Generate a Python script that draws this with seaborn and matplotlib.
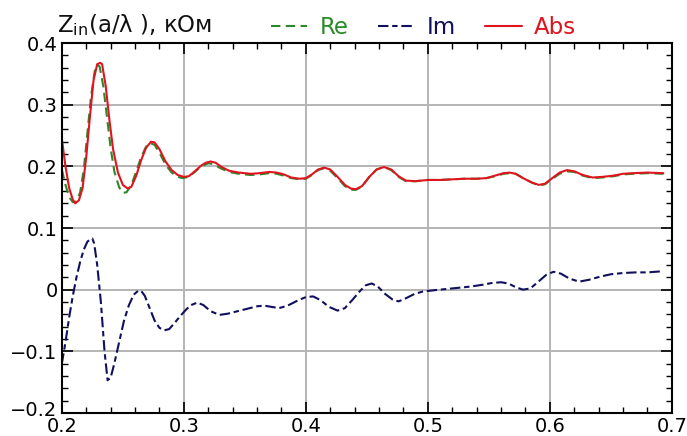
import numpy as np
import pandas as pd
import matplotlib
matplotlib.use("Agg")
import matplotlib.pyplot as plt
import matplotlib.transforms as mtransforms
import seaborn as sns
from matplotlib.ticker import MultipleLocator

# ---- data ----
abs_x = [0.200, 0.203, 0.206, 0.209, 0.211, 0.214, 0.217, 0.220, 0.223, 0.226,
         0.229, 0.2315, 0.233, 0.236, 0.239, 0.242, 0.246, 0.250, 0.254, 0.257,
         0.261, 0.265, 0.269, 0.273, 0.276, 0.280, 0.285, 0.290, 0.295, 0.300,
         0.304, 0.309, 0.314, 0.318, 0.322, 0.326, 0.331, 0.337, 0.345, 0.355,
         0.362, 0.370, 0.376, 0.382, 0.388, 0.395, 0.400, 0.405, 0.410, 0.415,
         0.420, 0.426, 0.432, 0.437, 0.441, 0.446, 0.452, 0.458, 0.464, 0.470,
         0.476, 0.482, 0.490, 0.500, 0.510, 0.520, 0.530, 0.540, 0.548, 0.555,
         0.562, 0.567, 0.572, 0.578, 0.585, 0.591, 0.596, 0.602, 0.608, 0.614,
         0.620, 0.627, 0.635, 0.643, 0.652, 0.660, 0.668, 0.680, 0.693]
abs_y = [0.245, 0.200, 0.165, 0.146, 0.140, 0.145, 0.165, 0.215, 0.280, 0.340,
         0.366, 0.368, 0.366, 0.330, 0.275, 0.228, 0.190, 0.170, 0.164, 0.167,
         0.185, 0.210, 0.230, 0.240, 0.239, 0.228, 0.208, 0.194, 0.186, 0.183,
         0.184, 0.192, 0.201, 0.206, 0.208, 0.206, 0.199, 0.193, 0.190, 0.188,
         0.189, 0.191, 0.190, 0.187, 0.182, 0.180, 0.181, 0.187, 0.195, 0.198,
         0.195, 0.183, 0.170, 0.164, 0.163, 0.168, 0.183, 0.195, 0.199, 0.195,
         0.184, 0.177, 0.176, 0.178, 0.178, 0.179, 0.180, 0.180, 0.181, 0.185,
         0.189, 0.190, 0.188, 0.181, 0.174, 0.170, 0.172, 0.181, 0.190, 0.194,
         0.192, 0.186, 0.182, 0.183, 0.185, 0.188, 0.189, 0.190, 0.189]

re_x = [0.200, 0.203, 0.206, 0.209, 0.212, 0.215, 0.218, 0.221, 0.224, 0.227,
        0.229, 0.231, 0.234, 0.237, 0.240, 0.243, 0.247, 0.250, 0.253, 0.257,
        0.261, 0.265, 0.269, 0.272, 0.276, 0.280, 0.285, 0.290, 0.295, 0.299,
        0.304, 0.309, 0.314, 0.320, 0.324, 0.330, 0.337, 0.345, 0.355, 0.362,
        0.370, 0.376, 0.382, 0.388, 0.395, 0.400, 0.405, 0.410, 0.415, 0.420,
        0.426, 0.432, 0.437, 0.441, 0.446, 0.452, 0.458, 0.464, 0.470, 0.476,
        0.482, 0.490, 0.500, 0.510, 0.520, 0.530, 0.540, 0.548, 0.555, 0.562,
        0.567, 0.572, 0.578, 0.585, 0.591, 0.596, 0.602, 0.608, 0.614, 0.620,
        0.627, 0.635, 0.643, 0.652, 0.660, 0.668, 0.680, 0.693]
re_y = [0.195, 0.170, 0.150, 0.142, 0.143, 0.158, 0.195, 0.255, 0.315, 0.355,
        0.365, 0.362, 0.330, 0.280, 0.230, 0.192, 0.166, 0.157, 0.158, 0.170,
        0.192, 0.215, 0.232, 0.238, 0.235, 0.222, 0.203, 0.190, 0.183, 0.181,
        0.183, 0.191, 0.200, 0.205, 0.204, 0.197, 0.191, 0.188, 0.186, 0.187,
        0.189, 0.188, 0.185, 0.181, 0.179, 0.180, 0.186, 0.194, 0.197, 0.193,
        0.181, 0.168, 0.162, 0.162, 0.167, 0.183, 0.195, 0.199, 0.194, 0.183,
        0.176, 0.176, 0.178, 0.178, 0.179, 0.180, 0.180, 0.181, 0.184, 0.188,
        0.189, 0.188, 0.181, 0.174, 0.169, 0.171, 0.180, 0.188, 0.192, 0.191,
        0.185, 0.181, 0.182, 0.184, 0.187, 0.188, 0.189, 0.188]

im_x = [0.200, 0.203, 0.206, 0.209, 0.212, 0.215, 0.218, 0.221, 0.2235, 0.225,
        0.2265, 0.229, 0.232, 0.235, 0.2375, 0.240, 0.243, 0.247, 0.251, 0.255,
        0.259, 0.2625, 0.265, 0.268, 0.272, 0.276, 0.280, 0.284, 0.288, 0.292,
        0.297, 0.302, 0.306, 0.311, 0.316, 0.322, 0.329, 0.336, 0.344, 0.352,
        0.360, 0.366, 0.372, 0.378, 0.385, 0.393, 0.400, 0.406, 0.412, 0.419,
        0.426, 0.432, 0.438, 0.444, 0.449, 0.454, 0.459, 0.465, 0.471, 0.476,
        0.482, 0.489, 0.496, 0.505, 0.515, 0.525, 0.535, 0.545, 0.553, 0.560,
        0.566, 0.572, 0.578, 0.584, 0.590, 0.597, 0.603, 0.609, 0.616, 0.624,
        0.632, 0.641, 0.650, 0.660, 0.670, 0.680, 0.693]
im_y = [-0.120, -0.085, -0.045, -0.010, 0.020, 0.045, 0.065, 0.078, 0.082, 0.083,
        0.075, 0.040, -0.020, -0.100, -0.147, -0.143, -0.120, -0.085, -0.050, -0.025,
        -0.008, -0.002, -0.002, -0.010, -0.030, -0.050, -0.062, -0.066, -0.064, -0.055,
        -0.043, -0.032, -0.025, -0.021, -0.025, -0.035, -0.041, -0.039, -0.035, -0.031,
        -0.027, -0.026, -0.028, -0.030, -0.026, -0.018, -0.012, -0.011, -0.017, -0.028,
        -0.034, -0.030, -0.017, -0.003, 0.007, 0.010, 0.005, -0.007, -0.016, -0.019,
        -0.014, -0.007, -0.003, -0.001, 0.001, 0.003, 0.005, 0.008, 0.011, 0.012,
        0.010, 0.004, 0.000, 0.002, 0.012, 0.024, 0.029, 0.026, 0.018, 0.013,
        0.016, 0.021, 0.025, 0.027, 0.028, 0.028, 0.030]

labels = ["Re", "Im", "Abs"]
x_ticks = [0.2, 0.3, 0.4, 0.5, 0.6, 0.7]
y_ticks = [-0.2, -0.1, 0.0, 0.1, 0.2, 0.3, 0.4]
y_ticklabels = ["\u22120.2", "\u22120.1", "0", "0.1", "0.2", "0.3", "0.4"]
title_text = "Z$_{\\mathregular{in}}$(a/\u03bb ), \u043a\u041e\u043c"

# ---- style ----
sns.set_style("ticks")
plt.rcParams["font.family"] = ["DejaVu Sans"]
plt.rcParams["mathtext.default"] = "regular"

fig = plt.figure(figsize=(6.87, 4.36), dpi=100)
ax = fig.add_axes([0.090, 0.053, 0.888, 0.848])

c_re = "#2a8a2a"
c_im = "#10105e"
c_abs = "#e0141e"

sns.lineplot(x=re_x, y=re_y, ax=ax, color=c_re, linewidth=1.5,
             linestyle=(0, (4.5, 2.6)), label=labels[0], sort=False)
sns.lineplot(x=im_x, y=im_y, ax=ax, color=c_im, linewidth=1.5,
             linestyle=(0, (5, 1.8, 2.6, 1.8)), label=labels[1], sort=False)
sns.lineplot(x=abs_x, y=abs_y, ax=ax, color=c_abs, linewidth=1.5,
             linestyle="-", label=labels[2], sort=False)

ax.set_xlim(0.2, 0.7)
ax.set_ylim(-0.2, 0.4)
ax.set_xticks(x_ticks)
ax.set_xticklabels([f"{v:g}" for v in x_ticks])
ax.set_yticks(y_ticks)
ax.set_yticklabels(y_ticklabels)
ax.xaxis.set_minor_locator(MultipleLocator(0.02))
ax.yaxis.set_minor_locator(MultipleLocator(0.02))
ax.tick_params(which="both", direction="in", top=True, right=True,
               labelsize=14, colors="black")
ax.tick_params(which="major", length=8, width=1.2)
ax.tick_params(which="minor", length=4, width=1.0)
ax.tick_params(axis="x", which="major", pad=3)
ax.tick_params(axis="y", which="major", pad=3)
ax.set_xlabel("")
ax.set_ylabel("")
ax.grid(True, which="major", color="#b4b4b4", linewidth=1.4)
ax.set_axisbelow(True)
for s in ax.spines.values():
    s.set_visible(True)
    s.set_linewidth(1.5)
    s.set_color("black")

# nudge the lowest y label up a little so it does not collide with "0.2"
lowest = ax.get_yticklabels()[0]
lowest.set_transform(lowest.get_transform() +
                     mtransforms.ScaledTranslation(0, 4 / 100, fig.dpi_scale_trans))

fig.text(57 / 687, 1 - 32 / 436, title_text, fontsize=16.5, ha="left",
         va="baseline", color="#111111")

leg = ax.legend(loc="lower left", bbox_to_anchor=(0.335, 1.0), ncol=3,
                frameon=False, fontsize=16.5, handlelength=1.6,
                handletextpad=0.55, columnspacing=1.25, borderaxespad=0.0,
                borderpad=0.2, labelcolor="linecolor")

fig.savefig("out.png", dpi=100)
